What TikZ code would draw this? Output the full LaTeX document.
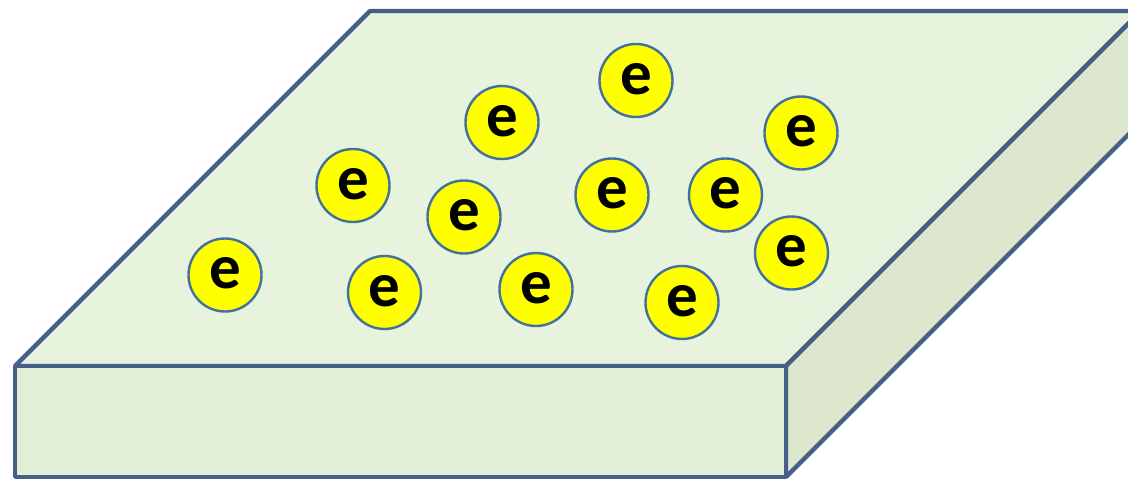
\documentclass[tikz,border=0pt]{standalone}
\usepackage{fontspec}
\setmainfont{Carlito}
\definecolor{edge}{RGB}{70,95,136}
\definecolor{topface}{RGB}{231,243,220}
\definecolor{frontface}{RGB}{226,239,214}
\definecolor{sideface}{RGB}{220,230,204}
\definecolor{ering}{RGB}{65,113,156}
\definecolor{eyellow}{RGB}{255,255,0}
\tikzset{
  slabedge/.style={draw=edge, line width=4.3pt, line join=bevel},
  electron/.style={circle, draw=ering, line width=2.4pt, fill=eyellow,
    minimum size=73pt, inner sep=0pt, text depth=4pt,
    font=\fontsize{63}{63}\selectfont\bfseries}
}
\begin{document}
\begin{tikzpicture}[x=1pt,y=-1pt]
  \useasboundingbox (0,0) rectangle (1128,479);
  \clip (0,0) rectangle (1128,479);
  % slab corners
  \coordinate (fl) at (15,366);
  \coordinate (fr) at (786,366);
  \coordinate (blb) at (15,477);
  \coordinate (brb) at (786,477);
  \coordinate (bl) at (370,11);
  \coordinate (br) at (1141,11);
  \coordinate (sb) at (1141,122);
  % faces
  \filldraw[slabedge, fill=topface] (fl) -- (bl) -- (br) -- (fr) -- cycle;
  \filldraw[slabedge, fill=sideface] (fr) -- (br) -- (sb) -- (brb) -- cycle;
  \filldraw[slabedge, fill=frontface] (fl) -- (fr) -- (brb) -- (blb) -- cycle;
  % electrons on the surface
  \node[electron] (e1) at (636,80.5) {e};
  \node[electron] (e2) at (502,122.5) {e};
  \node[electron] (e3) at (801,133) {e};
  \node[electron] (e4) at (353,185.5) {e};
  \node[electron] (e5) at (464,217) {e};
  \node[electron] (e6) at (612,195) {e};
  \node[electron] (e7) at (725.5,195) {e};
  \node[electron] (e8) at (791.5,253) {e};
  \node[electron] (e9) at (225,275) {e};
  \node[electron] (e10) at (384.5,292.5) {e};
  \node[electron] (e11) at (536,289.5) {e};
  \node[electron] (e12) at (682,302.5) {e};
\end{tikzpicture}
\end{document}
